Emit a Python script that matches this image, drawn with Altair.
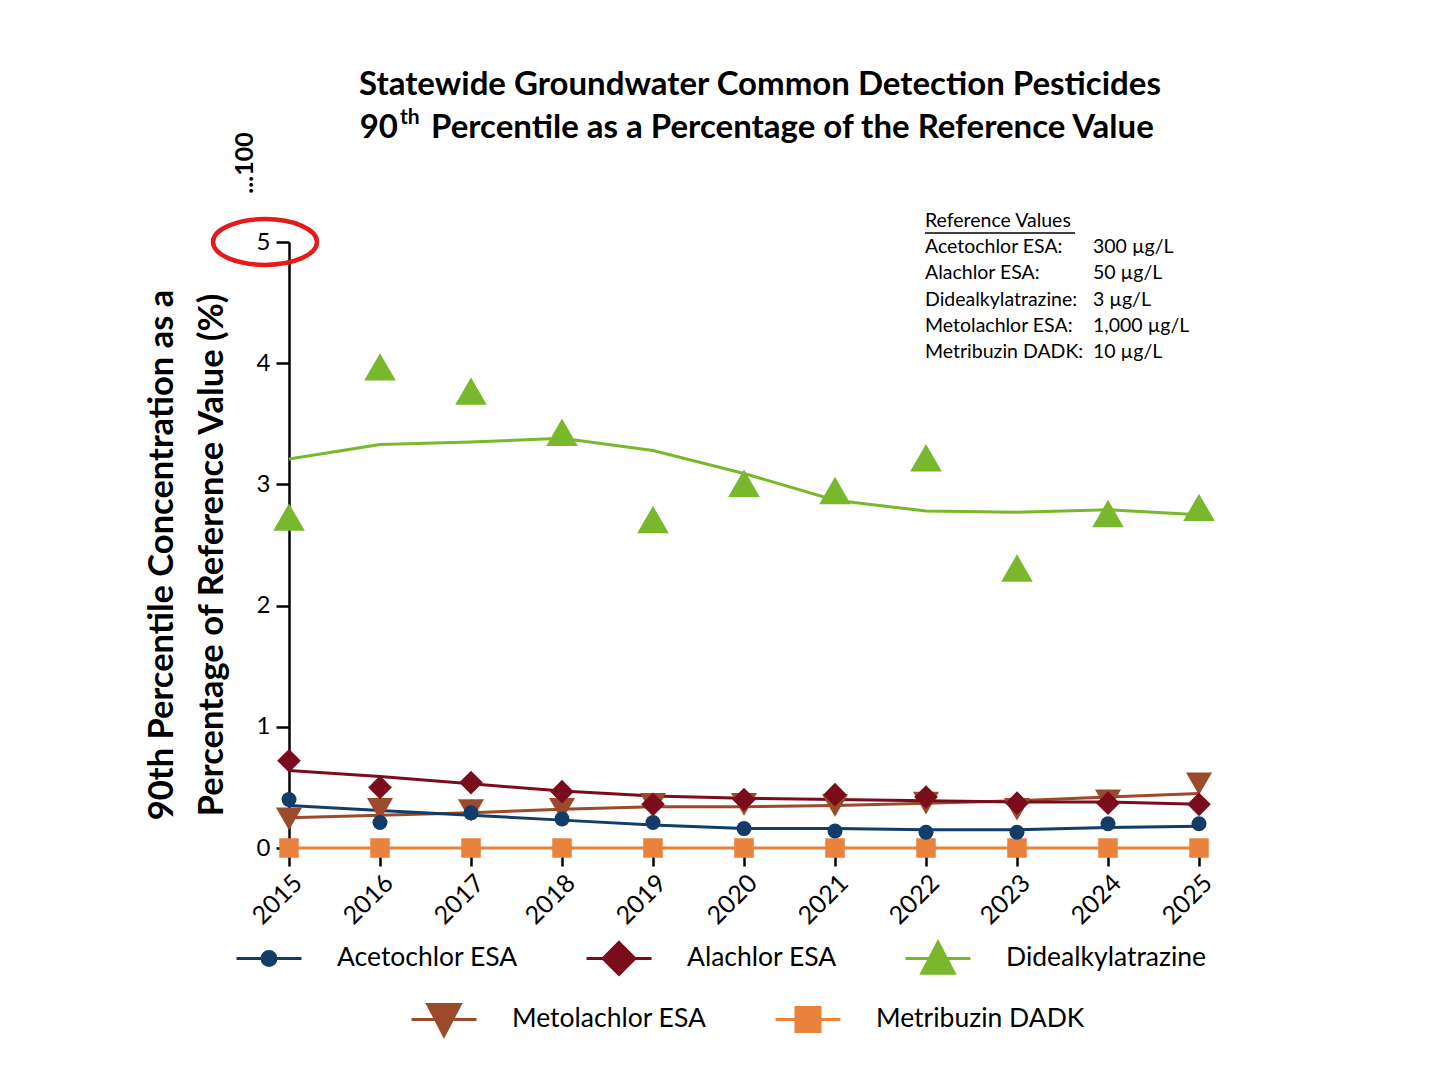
import altair as alt
import pandas as pd

# ---------------- data ----------------
years = [2015, 2016, 2017, 2018, 2019, 2020, 2021, 2022, 2023, 2024, 2025]
series = ["Acetochlor ESA", "Alachlor ESA", "Didealkylatrazine", "Metolachlor ESA", "Metribuzin DADK"]
colors = ["#123d68", "#7b0c1c", "#79b82c", "#9b4a2c", "#e8823c"]

acetochlor_pts = [0.40, 0.21, 0.29, 0.24, 0.21, 0.16, 0.14, 0.13, 0.13, 0.20, 0.20]
acetochlor_trend = [0.35, 0.31, 0.27, 0.23, 0.19, 0.16, 0.16, 0.15, 0.15, 0.17, 0.18]
alachlor_pts = [0.72, 0.50, 0.54, 0.465, 0.36, 0.40, 0.44, 0.42, 0.37, 0.37, 0.36]
alachlor_trend = [0.64, 0.59, 0.53, 0.47, 0.43, 0.41, 0.40, 0.39, 0.38, 0.38, 0.36]
dideal_pts = [2.73, 3.97, 3.77, 3.43, 2.71, 3.01, 2.95, 3.22, 2.31, 2.76, 2.81]
dideal_trend = [3.21, 3.33, 3.35, 3.38, 3.28, 3.09, 2.87, 2.78, 2.77, 2.79, 2.75]
metolachlor_pts = [0.24, 0.32, 0.31, 0.32, 0.36, 0.36, 0.35, 0.37, 0.32, 0.39, 0.53]
metolachlor_trend = [0.25, 0.27, 0.29, 0.32, 0.34, 0.34, 0.35, 0.37, 0.39, 0.42, 0.45]
metribuzin_pts = [0.0, 0.0, 0.0, 0.0, 0.0, 0.0, 0.0, 0.0, 0.0, 0.0, 0.0]
metribuzin_trend = [0.0, 0.0, 0.0, 0.0, 0.0, 0.0, 0.0, 0.0, 0.0, 0.0, 0.0]

title_line1 = "Statewide Groundwater Common Detection Pesticides"
title_line2_num = "90"
title_line2_sup = "th"
title_line2_rest = "Percentile as a Percentage of the Reference Value"
y_title_lines = ["90th Percentile Concentration as a", "Percentage of Reference Value (%)"]
axis_break_label = "...100"

ref_header = "Reference Values"
ref_names = ["Acetochlor ESA:", "Alachlor ESA:", "Didealkylatrazine:", "Metolachlor ESA:", "Metribuzin DADK:"]
ref_values = ["300 µg/L", "50 µg/L", "3 µg/L", "1,000 µg/L", "10 µg/L"]

FONT = "Lato"

# ---------------- tables ----------------
pts_map = {
    "Acetochlor ESA": acetochlor_pts,
    "Alachlor ESA": alachlor_pts,
    "Didealkylatrazine": dideal_pts,
    "Metolachlor ESA": metolachlor_pts,
    "Metribuzin DADK": metribuzin_pts,
}
trend_map = {
    "Acetochlor ESA": acetochlor_trend,
    "Alachlor ESA": alachlor_trend,
    "Didealkylatrazine": dideal_trend,
    "Metolachlor ESA": metolachlor_trend,
    "Metribuzin DADK": metribuzin_trend,
}
draw_order = ["Metribuzin DADK", "Metolachlor ESA", "Didealkylatrazine", "Alachlor ESA", "Acetochlor ESA"]
pts_rows, trend_rows = [], []
for s in draw_order:
    for y, v in zip(years, pts_map[s]):
        pts_rows.append({"series": s, "year": y, "value": v})
    for y, v in zip(years, trend_map[s]):
        trend_rows.append({"series": s, "year": y, "value": v})
pts_df = pd.DataFrame(pts_rows)
trend_df = pd.DataFrame(trend_rows)

x_enc = alt.X("year:Q", scale=alt.Scale(domain=[2015, 2025], nice=False, zero=False),
              axis=alt.Axis(values=years, format="d", labelAngle=-45, labelFontSize=25, labelFont=FONT,
                            labelColor="black", domain=False, ticks=True, tickSize=10, tickWidth=2.5,
                            tickColor="black", offset=8, grid=False, title=None, labelPadding=4))
y_enc = alt.Y("value:Q", scale=alt.Scale(domain=[0, 5], nice=False, zero=True),
              axis=alt.Axis(values=[0, 1, 2, 3, 4, 5], labelFontSize=24, labelFont=FONT, labelColor="black",
                            tickSize=13, tickWidth=2.5, tickColor="black", domainWidth=2.5,
                            domainColor="black", labelPadding=6, grid=False, title=None))

color_scale = alt.Scale(domain=series, range=colors)

lines = alt.Chart(trend_df).mark_line(strokeWidth=3).encode(
    x=x_enc, y=y_enc,
    color=alt.Color("series:N", scale=color_scale, legend=None),
    detail="series:N",
)

points = alt.Chart(pts_df).mark_point(filled=True, opacity=1).encode(
    x=x_enc, y=y_enc,
    color=alt.Color("series:N", scale=color_scale, legend=None),
    shape=alt.Shape("series:N", scale=alt.Scale(domain=series,
                    range=["circle", "diamond", "triangle-up", "triangle-down", "square"]), legend=None),
    size=alt.Size("series:N", scale=alt.Scale(type="ordinal", domain=series,
                  range=[225, 560, 1000, 680, 380]), legend=None),
)

# ---------------- legends (line + marker symbols) ----------------
pad = "M0,-0.56M0,0.56"
legend_paths = [
    "M-1,0H1M0.215,0A0.215,0.215,0,1,1,-0.215,0A0.215,0.215,0,1,1,0.215,0Z" + pad,
    "M-1,0H1M0,-0.49L0.49,0L0,0.49L-0.49,0Z" + pad,
    "M-1,0H1M0,-0.5L0.5,0.46L-0.5,0.46Z" + pad,
    "M-1,0H1M0,0.5L0.5,-0.46L-0.5,-0.46Z" + pad,
    "M-1,0H1M-0.37,-0.37H0.37V0.37H-0.37Z" + pad,
]


def legend_layer(idx, lx, ly):
    dom = [series[i] for i in idx]
    lg = alt.Legend(title=None, orient="none", legendX=lx, legendY=ly, direction="horizontal",
                    labelFont=FONT, labelFontSize=26.5, labelColor="black", symbolSize=4225,
                    symbolStrokeWidth=3, symbolOpacity=1, labelOffset=34, columnPadding=62,
                    padding=0, labelLimit=400)
    return alt.Chart(pts_df).transform_filter("false").mark_point(filled=False, opacity=1, strokeWidth=3).encode(
        x=x_enc, y=y_enc,
        stroke=alt.Stroke("series:N", scale=alt.Scale(domain=dom, range=[colors[i] for i in idx]), legend=lg),
        fill=alt.Fill("series:N", scale=alt.Scale(domain=dom, range=[colors[i] for i in idx]), legend=lg),
        shape=alt.Shape("series:N", scale=alt.Scale(domain=dom, range=[legend_paths[i] for i in idx]), legend=lg),
    )


legA = legend_layer([0, 1, 2], -54, 682)
legB = legend_layer([3, 4], 121, 743)

# ---------------- annotations ----------------
one = pd.DataFrame({"k": [0]})

title1 = alt.Chart(one).mark_text(text=title_line1, font=FONT, fontSize=33, fontWeight="bold",
                                  align="center", baseline="middle", color="black").encode(
    x=alt.value(471), y=alt.value(-157))
title2a = alt.Chart(one).mark_text(text=title_line2_num, font=FONT, fontSize=33, fontWeight="bold",
                                   align="right", baseline="middle", color="black").encode(
    x=alt.value(109), y=alt.value(-114))
title2b = alt.Chart(one).mark_text(text=title_line2_sup, font=FONT, fontSize=21, fontWeight="bold",
                                   align="left", baseline="middle", color="black").encode(
    x=alt.value(111), y=alt.value(-124))
title2c = alt.Chart(one).mark_text(text=title_line2_rest, font=FONT, fontSize=33, fontWeight="bold",
                                   align="left", baseline="middle", color="black").encode(
    x=alt.value(142), y=alt.value(-114))

ytitle1 = alt.Chart(one).mark_text(text=y_title_lines[0], font=FONT, fontSize=34.5, fontWeight="bold",
                                   align="center", baseline="middle", angle=270, color="black").encode(
    x=alt.value(-126), y=alt.value(313))
ytitle2 = alt.Chart(one).mark_text(text=y_title_lines[1], font=FONT, fontSize=34.5, fontWeight="bold",
                                   align="center", baseline="middle", angle=270, color="black").encode(
    x=alt.value(-76), y=alt.value(313))

brk = alt.Chart(one).mark_text(text=axis_break_label, font=FONT, fontSize=25, fontWeight="bold",
                               align="center", baseline="middle", angle=270, color="black").encode(
    x=alt.value(-44), y=alt.value(-79))

ellipse = alt.Chart(one).mark_point(
    shape="M-1,0A1,0.44,0,1,0,1,0A1,0.44,0,1,0,-1,0Z", size=10816, filled=False,
    stroke="#e31b1b", strokeWidth=4.5, opacity=1).encode(x=alt.value(-24), y=alt.value(0))

ref_df = pd.DataFrame({"name": ref_names, "val": ref_values, "row": list(range(1, len(ref_names) + 1))})
ref_head = alt.Chart(one).mark_text(text=ref_header, font=FONT, fontSize=19.5, align="left",
                                    baseline="middle", color="black").encode(
    x=alt.value(636), y=alt.value(-21))
ref_ul = alt.Chart(one).mark_rule(color="black", strokeWidth=1.3).encode(
    x=alt.value(636), x2=alt.value(786), y=alt.value(-9))
ref_names_t = alt.Chart(ref_df).transform_calculate(py="datum.row * 26.2 - 21").mark_text(
    font=FONT, fontSize=19.5, align="left", baseline="middle", color="black").encode(
    text="name:N", x=alt.value(636), y=alt.Y("py:Q", scale=None))
ref_vals_t = alt.Chart(ref_df).transform_calculate(py="datum.row * 26.2 - 21").mark_text(
    font=FONT, fontSize=19.5, align="left", baseline="middle", color="black").encode(
    text="val:N", x=alt.value(804), y=alt.Y("py:Q", scale=None))

chart = alt.layer(
    lines, points, ellipse, brk, title1, title2a, title2b, title2c, ytitle1, ytitle2,
    ref_head, ref_ul, ref_names_t, ref_vals_t, legA, legB,
).resolve_scale(
    shape="independent", stroke="independent", fill="independent"
).properties(
    width=910, height=606,
    autosize=alt.AutoSizeParams(type="none"),
    padding={"left": 289, "top": 242, "right": 231, "bottom": 224},
    background="white",
).configure_view(stroke=None)

chart.save("out.html", embed_options={"renderer": "svg", "actions": False})
